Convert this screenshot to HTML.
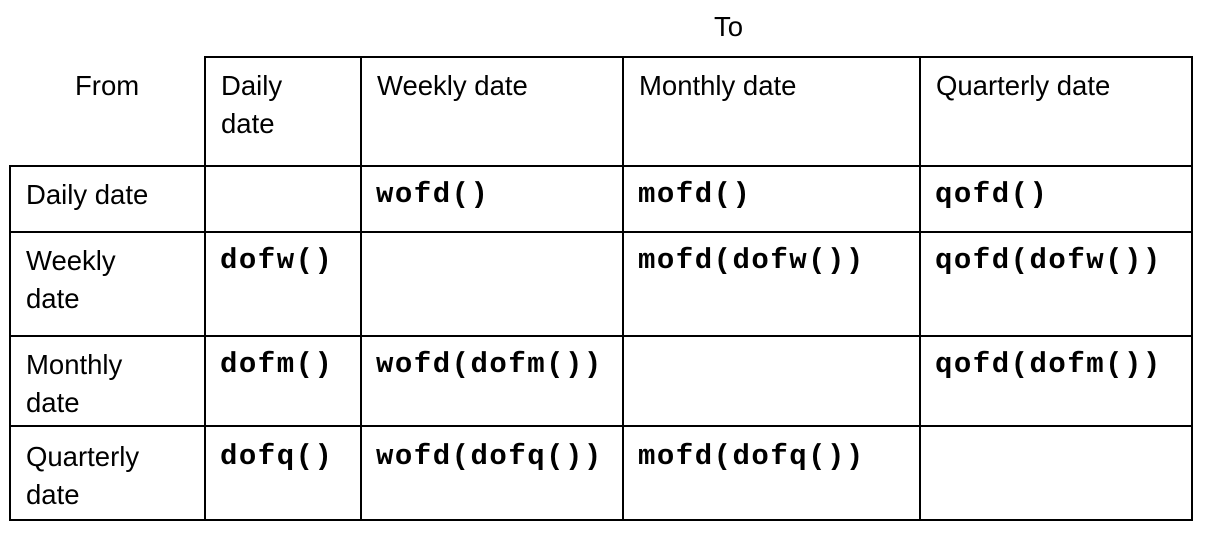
<!DOCTYPE html>
<html><head><style>
body{margin:0;width:1206px;height:534px;background:#fff;position:relative;overflow:hidden;font-family:"Liberation Sans",sans-serif;color:#000}
.l{position:absolute;background:#000}
.t{position:absolute;font-size:27.5px;line-height:38px;white-space:nowrap}
.m{position:absolute;font-family:"Liberation Mono",monospace;font-weight:bold;font-size:29px;line-height:38px;white-space:nowrap;letter-spacing:1.5px}
</style></head><body>
<div class="l" style="left:205px;top:56px;width:988px;height:2px"></div>
<div class="l" style="left:9px;top:165px;width:1184px;height:2px"></div>
<div class="l" style="left:9px;top:231px;width:1184px;height:2px"></div>
<div class="l" style="left:9px;top:335px;width:1184px;height:2px"></div>
<div class="l" style="left:9px;top:425px;width:1184px;height:2px"></div>
<div class="l" style="left:9px;top:519px;width:1184px;height:2px"></div>
<div class="l" style="left:9px;top:165px;width:2px;height:356px"></div>
<div class="l" style="left:204px;top:56px;width:2px;height:465px"></div>
<div class="l" style="left:360px;top:56px;width:2px;height:465px"></div>
<div class="l" style="left:622px;top:56px;width:2px;height:465px"></div>
<div class="l" style="left:919px;top:56px;width:2px;height:465px"></div>
<div class="l" style="left:1191px;top:56px;width:2px;height:465px"></div>

<div class="t" style="left:714px;top:8px">To</div>
<div class="t" style="left:75px;top:67px">From</div>
<div class="t" style="left:221px;top:67px">Daily<br>date</div>
<div class="t" style="left:377px;top:67px">Weekly date</div>
<div class="t" style="left:639px;top:67px">Monthly date</div>
<div class="t" style="left:936px;top:67px">Quarterly date</div>

<div class="t" style="left:26px;top:176px">Daily date</div>
<div class="t" style="left:26px;top:242px">Weekly<br>date</div>
<div class="t" style="left:26px;top:346px">Monthly<br>date</div>
<div class="t" style="left:26px;top:438px">Quarterly<br>date</div>

<div class="m" style="left:376px;top:176px">wofd()</div>
<div class="m" style="left:638px;top:176px">mofd()</div>
<div class="m" style="left:935px;top:176px">qofd()</div>

<div class="m" style="left:220px;top:242px">dofw()</div>
<div class="m" style="left:638px;top:242px">mofd(dofw())</div>
<div class="m" style="left:935px;top:242px">qofd(dofw())</div>

<div class="m" style="left:220px;top:346px">dofm()</div>
<div class="m" style="left:376px;top:346px">wofd(dofm())</div>
<div class="m" style="left:935px;top:346px">qofd(dofm())</div>

<div class="m" style="left:220px;top:438px">dofq()</div>
<div class="m" style="left:376px;top:438px">wofd(dofq())</div>
<div class="m" style="left:638px;top:438px">mofd(dofq())</div>
</body></html>
